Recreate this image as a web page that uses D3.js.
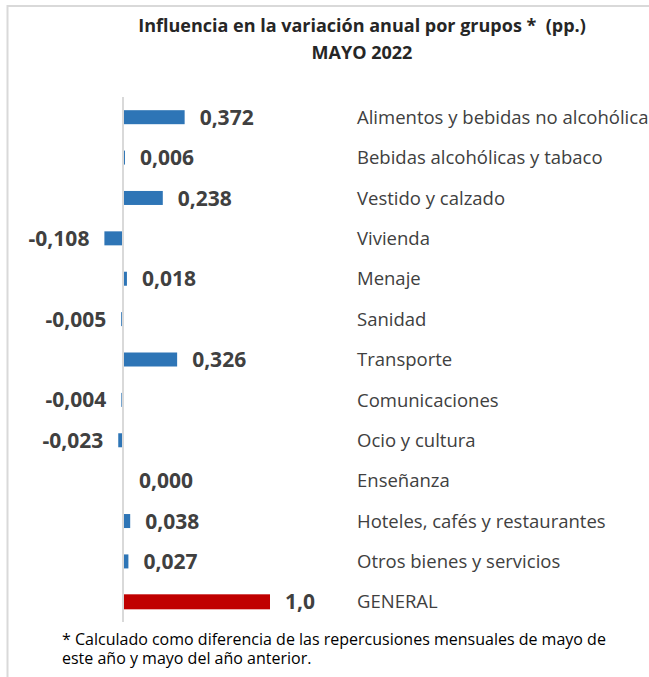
<!DOCTYPE html>
<html>
<head lang="es">
    <meta charset="UTF-8">
    <title>Influencia en la variación anual por grupos</title>
    <script src="https://d3js.org/d3.v7.min.js" charset="utf-8"></script>
    <style type="text/css">
        body { margin: 0; background: #ffffff; }
        svg { display: block; font-family: "Open Sans", sans-serif; }
    </style>
</head>
<body>

<svg id="svg" width="649" height="677"></svg>

<script>
    // datos
    var categories = ["Alimentos y bebidas no alcohólicas", "Bebidas alcohólicas y tabaco", "Vestido y calzado",
        "Vivienda", "Menaje", "Sanidad", "Transporte", "Comunicaciones", "Ocio y cultura", "Enseñanza",
        "Hoteles, cafés y restaurantes", "Otros bienes y servicios", "GENERAL"];
    var values = [0.372, 0.006, 0.238, -0.108, 0.018, -0.005, 0.326, -0.004, -0.023, 0.000, 0.038, 0.027, 1.0];
    var titleLines = ["Influencia en la variación anual por grupos *  (pp.)", "MAYO 2022"];
    var footnoteLines = ["* Calculado como diferencia de las repercusiones mensuales de mayo de",
        "este año y mayo del año anterior."];

    var svg = d3.select("svg");
    var grey = "#d9d9d9";

    var locale = d3.formatLocale({decimal: ",", thousands: ".", grouping: [3], currency: ["", "€"], minus: "-"});
    var fmt3 = locale.format(".3f");
    var fmt1 = locale.format(".1f");

    // marco
    svg.append("line").attr("x1", 7).attr("x2", 649).attr("y1", 6).attr("y2", 6)
        .style("stroke", grey).style("stroke-width", 2);
    svg.append("line").attr("x1", 7.5).attr("x2", 7.5).attr("y1", 5).attr("y2", 677)
        .style("stroke", grey).style("stroke-width", 2);

    // título
    svg.selectAll("text.title").data(titleLines).enter().append("text")
        .attr("class", "title")
        .attr("x", 362)
        .attr("y", function (d, i) { return 32 + i * 27; })
        .attr("text-anchor", "middle")
        .style("font-weight", "bold").style("font-size", "18px").style("fill", "#262626")
        .style("white-space", "pre")
        .text(function (d) { return d; });

    var n = categories.length;
    var general = categories[n - 1];

    var y = d3.scalePoint().domain(categories).range([97, 622]).padding(0.5);
    var x = d3.scaleLinear().domain([-0.2, 0.4]).range([123 - 0.2 * 163, 123 + 0.4 * 163]);
    // la barra GENERAL va en su propio eje
    var xGen = d3.scaleLinear().domain([0, 1]).range([123, 269]);

    var rows = categories.map(function (c, i) {
        return {cat: c, v: values[i], sc: c === general ? xGen : x};
    });

    // las barras positivas empiezan justo a la derecha del eje
    svg.selectAll("rect.bar").data(rows).enter().append("rect")
        .attr("class", "bar")
        .attr("x", function (d) { return d.v < 0 ? d.sc(d.v) - 1 : d.sc(0) + 1; })
        .attr("width", function (d) { return Math.abs(d.sc(d.v) - d.sc(0)); })
        .attr("y", function (d) { return y(d.cat) - (d.cat === general ? 7.5 : 7); })
        .attr("height", function (d) { return d.cat === general ? 15 : 14; })
        .style("fill", function (d) { return d.cat === general ? "#c00000" : "#2e75b6"; });

    // eje vertical
    svg.append("line").attr("x1", 123).attr("x2", 123).attr("y1", 97).attr("y2", 622)
        .style("stroke", grey).style("stroke-width", 2);

    // etiquetas de valor
    svg.selectAll("text.val").data(rows).enter().append("text")
        .attr("class", "val")
        .attr("x", function (d) { return d.v < 0 ? d.sc(d.v) - 16 : d.sc(d.v) + 16; })
        .attr("y", function (d) { return y(d.cat); })
        .attr("dy", "0.36em")
        .attr("text-anchor", function (d) { return d.v < 0 ? "end" : "start"; })
        .style("font-weight", "bold").style("font-size", "21px").style("fill", "#404040")
        .text(function (d) { return d.cat === general ? fmt1(d.v) : fmt3(d.v); });

    // nombres de grupo
    svg.selectAll("text.cat").data(rows).enter().append("text")
        .attr("class", "cat")
        .attr("x", 357)
        .attr("y", function (d) { return y(d.cat); })
        .attr("dy", "0.36em")
        .style("font-size", "18.5px").style("fill", "#404040")
        .text(function (d) { return d.cat; });

    // nota
    svg.selectAll("text.note").data(footnoteLines).enter().append("text")
        .attr("class", "note")
        .attr("x", 62)
        .attr("y", function (d, i) { return 645 + i * 19; })
        .style("font-size", "16px").style("fill", "#000000")
        .text(function (d) { return d; });
</script>

</body>
</html>
